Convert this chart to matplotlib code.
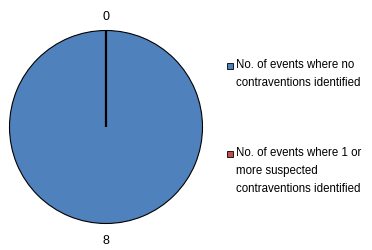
import matplotlib.pyplot as plt
from matplotlib.patches import Rectangle

# slice data
labels = ["No. of events where no\ncontraventions identified",
          "No. of events where 1 or\nmore suspected\ncontraventions identified"]
values = [8, 0]
colors = ["#4F81BD", "#C0504D"]

plt.rcParams['font.family'] = ['Liberation Sans', 'DejaVu Sans']

W, H = 372, 250
fig = plt.figure(figsize=(W / 100, H / 100), dpi=100)
ax = fig.add_axes([9.5 / W, 26.5 / H, 193 / W, 193 / H])

total = sum(values)
wedges, texts, autotexts = ax.pie(
    values, colors=colors, startangle=90, counterclock=False,
    wedgeprops=dict(edgecolor="black", linewidth=0.8),
    autopct=lambda p: f"{p * total / 100:.0f}", pctdistance=1.0,
    textprops=dict(fontsize=9, color="black"))
# the empty slice shows only as a radius line, drawn a little heavier
for w, v in zip(wedges, values):
    if v == 0:
        w.set_linewidth(1.6)
# push value labels outside the pie (bottom one a bit further, like Excel)
for t in autotexts:
    x, y = t.get_position()
    k = 1.14 if y > 0 else 1.18
    t.set_position((x * k, y * k))
ax.set_xlim(-1, 1)
ax.set_ylim(-1, 1)
ax.set_aspect("equal")

# legend drawn by hand so the swatch sits on the first text line
tops = [59.5, 147.5]
for lab, col, yt in zip(labels, colors, tops):
    fig.patches.append(Rectangle((227 / W, 1 - (yt + 9.5) / H), 6 / W, 6 / H,
                                 transform=fig.transFigure, facecolor=col,
                                 edgecolor="black", linewidth=0.6))
    fig.text(236 / W, 1 - yt / H, lab, fontsize=8.3, va="top", ha="left",
             linespacing=1.62)

fig.savefig("out.png", dpi=100)
